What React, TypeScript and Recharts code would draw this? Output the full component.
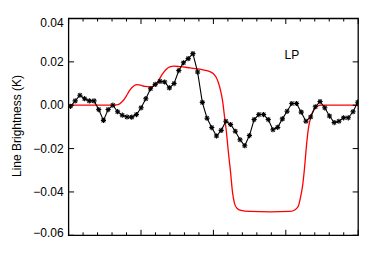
import React from 'react'
import {
  LineChart,
  Line,
  XAxis,
  YAxis,
  ReferenceArea,
  ReferenceDot,
  Label,
} from 'recharts'

// observed spectrum, one value per channel (K)
const observed = [
  -0.0005, 0.002, 0.0046, 0.003, 0.002, 0.002, -0.002, -0.007, -0.002, 0.0,
  -0.003, -0.0046, -0.0054, -0.0055, -0.0043, -0.0012, 0.003, 0.0076, 0.0096, 0.011,
  0.0107, 0.008, 0.01, 0.016, 0.0196, 0.0215, 0.0238, 0.0153, 0.0013, -0.006,
  -0.0103, -0.0142, -0.0116, -0.0074, -0.0089, -0.012, -0.0159, -0.0187, -0.014, -0.0066,
  -0.0043, -0.0043, -0.0066, -0.0113, -0.0102, -0.0063, -0.0028, 0.0008, 0.0008, -0.0032,
  -0.0074, -0.0054, -0.0007, 0.0017, -0.0012, -0.005, -0.008, -0.0074, -0.0058, -0.0058,
  -0.003, 0.0014,
]

// model curve (channel, K)
const modelX = [
  -0.4, 8.4, 10.1, 10.9, 11.8, 12.6, 13.5, 14.2, 15.0, 15.8, 16.9, 17.7, 18.6, 19.4, 20.3,
  21.1, 22.0, 23.2, 25.4, 27.5, 29.2, 30.3, 30.9, 31.4, 31.85, 32.3, 32.7, 33.1, 33.5, 34.0,
  34.4, 34.8, 35.35, 36.2, 38.1, 42.4, 46.6, 47.7, 48.4, 48.8, 49.3, 49.7, 50.1, 50.5, 51.1,
  51.7, 52.5, 53.4, 61.1,
]
const modelY = [
  0, 0, 0.0003, 0.0015, 0.004, 0.007, 0.009, 0.0095, 0.0092, 0.0087, 0.0085, 0.009, 0.011, 0.014, 0.0165,
  0.0177, 0.018, 0.0178, 0.0172, 0.0166, 0.0158, 0.0146, 0.013, 0.0105, 0.007, 0.002, -0.005, -0.012, -0.021, -0.031,
  -0.04, -0.045, -0.0475, -0.0485, -0.049, -0.0492, -0.049, -0.0482, -0.0465, -0.043, -0.037, -0.029, -0.019, -0.011, -0.005,
  -0.002, -0.0003, 0, 0,
]

const yTicks = [-0.06, -0.04, -0.02, 0.0, 0.02, 0.04]

const X_MIN = -0.4
const X_MAX = 61.1
const xTicks = Array.from({ length: 21 }, (_, k) => X_MIN + (k * (X_MAX - X_MIN)) / 20)

const obsData = observed.map((v, i) => ({ ch: i, obs: v }))
const modelData = modelX.map((x, i) => ({ ch: x, model: modelY[i] }))

// plot frame in pixels
const L = 68.6
const R = 358.2
const T = 18.5
const B = 235.3
const W = 381
const H = 272

const FONT = 'Liberation Sans, Arial, sans-serif'

const fmt = (v: number) => (v < 0 ? '\u2212' : '') + Math.abs(v).toFixed(2)

const YTick = (props: any) => {
  const { y, payload } = props
  const v = payload.value
  const nudge = v <= -0.06 ? -2.6 : v >= 0.04 ? 3.8 : 0
  return (
    <g>
      <text x={L - 5} y={y + nudge + 4.2} textAnchor="end" fontSize={12} fontFamily={FONT} fill="#000">
        {fmt(v)}
      </text>
      <line x1={L} x2={L + 5.5} y1={y} y2={y} stroke="#000" strokeWidth={1} />
      <line x1={R - 5.5} x2={R} y1={y} y2={y} stroke="#000" strokeWidth={1} />
    </g>
  )
}

const XTick = (props: any) => {
  const { x, payload } = props
  const k = Math.round(((payload.value - X_MIN) * 20) / (X_MAX - X_MIN))
  const len = k % 5 === 0 ? 5.5 : 3
  return (
    <g>
      <line x1={x} x2={x} y1={B} y2={B - len} stroke="#000" strokeWidth={1} />
      <line x1={x} x2={x} y1={T} y2={T + len} stroke="#000" strokeWidth={1} />
    </g>
  )
}

const Star = (props: any) => {
  const { cx, cy, index } = props
  if (cx == null || cy == null) return <g key={index} />
  const s = 2.6
  const d = 1.9
  return (
    <g key={index} stroke="#000" strokeWidth={1.1}>
      <line x1={cx - s} y1={cy} x2={cx + s} y2={cy} />
      <line x1={cx} y1={cy - s} x2={cx} y2={cy + s} />
      <line x1={cx - d} y1={cy - d} x2={cx + d} y2={cy + d} />
      <line x1={cx - d} y1={cy + d} x2={cx + d} y2={cy - d} />
    </g>
  )
}

export default function App() {
  return (
    <div style={{ position: 'absolute', left: 0, top: 0, width: W, height: H, background: '#fff' }}>
      <LineChart
        width={W}
        height={H}
        margin={{ top: T, right: W - R, bottom: 0, left: 0 }}
      >
        <XAxis
          dataKey="ch"
          type="number"
          domain={[X_MIN, X_MAX]}
          ticks={xTicks}
          tick={XTick}
          interval={0}
          tickLine={false}
          axisLine={false}
          height={H - B}
          allowDataOverflow
        />
        <YAxis
          type="number"
          domain={[-0.06, 0.04]}
          ticks={yTicks}
          tick={YTick}
          interval={0}
          tickLine={false}
          axisLine={false}
          width={L}
          allowDataOverflow
        />
        <ReferenceArea
          x1={X_MIN}
          x2={X_MAX}
          y1={-0.06}
          y2={0.04}
          fill="none"
          stroke="#000"
          strokeWidth={1.3}
          ifOverflow="visible"
        />
        <Line
          data={modelData}
          dataKey="model"
          type="monotone"
          stroke="#ff0000"
          strokeWidth={1.3}
          dot={false}
          isAnimationActive={false}
        />
        <Line
          data={obsData}
          dataKey="obs"
          type="linear"
          stroke="#000"
          strokeWidth={1.1}
          dot={Star}
          isAnimationActive={false}
        />
        <ReferenceDot x={47} y={0.0235} r={0} fill="none" stroke="none" ifOverflow="visible">
          <Label value="LP" position="center" fontSize={12} fontFamily={FONT} fill="#000" />
        </ReferenceDot>
        <ReferenceDot x={X_MIN} y={-0.01} r={0} fill="none" stroke="none" ifOverflow="visible">
          <Label
            content={() => (
              <text
                x={20.5}
                y={126}
                transform="rotate(-90 20.5 126)"
                textAnchor="middle"
                fontSize={12}
                fontFamily={FONT}
                fill="#000"
              >
                Line Brightness (K)
              </text>
            )}
          />
        </ReferenceDot>
      </LineChart>
    </div>
  )
}
